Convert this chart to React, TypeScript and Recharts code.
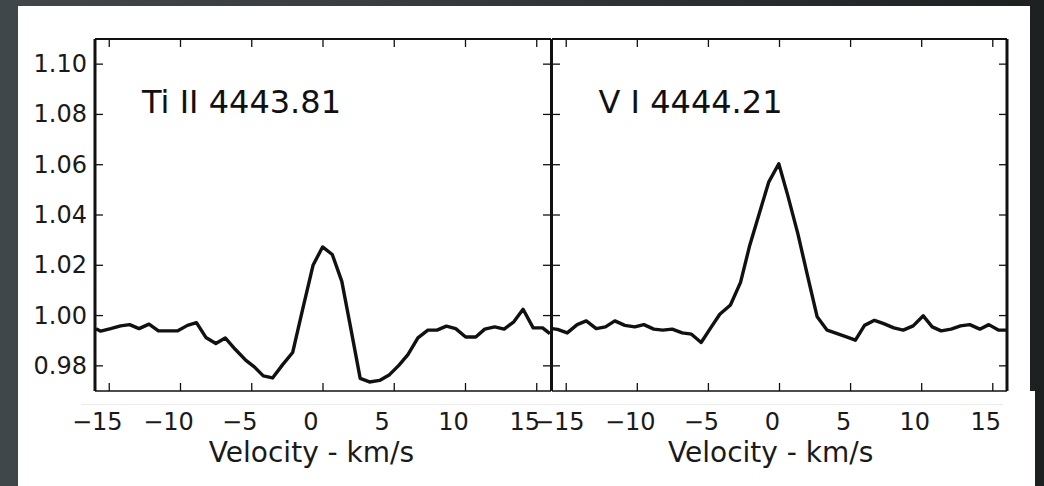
import React from "react";
import { Line, LineChart, XAxis, YAxis } from "recharts";

// Ti II 4443.81 profile (left panel)
const tiVelocity = [
  -15.93, -15.6, -14.9, -14.2, -13.57, -12.91, -12.21, -11.55, -10.87, -10.22,
  -9.51, -8.88, -8.22, -7.52, -6.86, -6.16, -5.41, -4.82, -4.19, -3.54, -2.83,
  -2.13, -1.45, -0.7, -0.03, 0.65, 1.32, 1.98, 2.61, 3.26, 3.97, 4.67, 5.32,
  5.96, 6.66, 7.36, 8.0, 8.66, 9.31, 10.01, 10.72, 11.35, 12.05, 12.71, 13.39,
  14.04, 14.75, 15.41, 15.92,
];
const tiFlux = [
  0.9948, 0.9938, 0.9948, 0.9959, 0.9964, 0.9948, 0.9966, 0.9939, 0.9939,
  0.9939, 0.9961, 0.9972, 0.9913, 0.9889, 0.9911, 0.9866, 0.9822, 0.9796,
  0.976, 0.9752, 0.9805, 0.9853, 1.002, 1.02, 1.0273, 1.0243, 1.0136, 0.994,
  0.975, 0.9736, 0.9742, 0.9765, 0.9802, 0.9845, 0.9911, 0.9942, 0.9942,
  0.9958, 0.9948, 0.9915, 0.9915, 0.9946, 0.9955, 0.9946, 0.9975, 1.0025,
  0.9951, 0.9951, 0.9928,
];

// V I 4444.21 profile (right panel)
const vVelocity = [
  -15.98, -15.61, -14.93, -14.23, -13.59, -12.89, -12.24, -11.58, -10.88,
  -10.18, -9.54, -8.84, -8.21, -7.55, -6.84, -6.19, -5.51, -4.85, -4.2, -3.45,
  -2.74, -2.09, -1.39, -0.75, -0.05, 0.58, 1.29, 1.99, 2.65, 3.35, 4.06, 4.71,
  5.34, 5.98, 6.68, 7.33, 8.04, 8.7, 9.4, 10.11, 10.74, 11.37, 12.07, 12.73,
  13.38, 14.09, 14.72, 15.42, 15.96,
];
const vFlux = [
  0.9948, 0.9945, 0.9931, 0.9964, 0.9979, 0.9948, 0.9955, 0.9979, 0.9961,
  0.9955, 0.9964, 0.9946, 0.9942, 0.9946, 0.9931, 0.9926, 0.9893, 0.995,
  1.0005, 1.0042, 1.0132, 1.028, 1.0412, 1.0532, 1.0604, 1.0478, 1.0326,
  1.0154, 0.9995, 0.9942, 0.9928, 0.9915, 0.9902, 0.9961, 0.9981, 0.9968,
  0.9951, 0.9942, 0.9959, 0.9999, 0.9955, 0.9939, 0.9946, 0.9959, 0.9964,
  0.9946, 0.9964, 0.9942, 0.9942,
];

const velocityTicks = [-15, -10, -5, 0, 5, 10, 15];
const fluxTicks = [0.98, 1.0, 1.02, 1.04, 1.06, 1.08, 1.1];
const panelTitles = ["Ti II 4443.81", "V I 4444.21"];
const xAxisTitle = "Velocity - km/s";

const tiData = tiVelocity.map((v, i) => ({ v, flux: tiFlux[i] }));
const vData = vVelocity.map((v, i) => ({ v, flux: vFlux[i] }));

const FONT = '"DejaVu Sans", "Liberation Sans", sans-serif';
const INK = "#111";
const TICK = 8;
const X_DOMAIN: [number, number] = [-16, 16];
const Y_DOMAIN: [number, number] = [0.97, 1.11];

const fmtVelocity = (v: number) => (v < 0 ? `\u2212${Math.abs(v)}` : `${v}`);

type TickProps = {
  x?: number;
  y?: number;
  payload?: { value: number };
  shift?: number;
  showLabel?: boolean;
};

function BottomTick({ x = 0, y = 0, payload, shift = 0 }: TickProps) {
  return (
    <g>
      <line x1={x} x2={x} y1={y} y2={y - TICK} stroke={INK} strokeWidth={1.3} />
      <text
        x={x + shift}
        y={y + 31}
        textAnchor="middle"
        dominantBaseline="central"
        fontFamily={FONT}
        fontSize={24}
        fill="#1a1a1a"
      >
        {fmtVelocity(payload ? payload.value : 0)}
      </text>
    </g>
  );
}

function TopTick({ x = 0, y = 0 }: TickProps) {
  return <line x1={x} x2={x} y1={y} y2={y + TICK} stroke={INK} strokeWidth={1.3} />;
}

function LeftTick({ x = 0, y = 0, payload, showLabel }: TickProps) {
  return (
    <g>
      <line x1={x} x2={x + TICK} y1={y} y2={y} stroke={INK} strokeWidth={1.3} />
      {showLabel && (
        <text
          x={x - 8}
          y={y}
          textAnchor="end"
          dominantBaseline="central"
          fontFamily={FONT}
          fontSize={24}
          fill="#1a1a1a"
        >
          {(payload ? payload.value : 0).toFixed(2)}
        </text>
      )}
    </g>
  );
}

function RightTick({ x = 0, y = 0 }: TickProps) {
  return <line x1={x} x2={x - TICK} y1={y} y2={y} stroke={INK} strokeWidth={1.3} />;
}

const panelTitle = (text: string, dx: number) => (props: any) => {
  const vb = props.viewBox || { x: 0, y: 0, height: 0 };
  return (
    <text x={vb.x + dx} y={vb.y + vb.height + 73.5} fontFamily={FONT} fontSize={32} fill={INK}>
      {text}
    </text>
  );
};

const axisTitle = (shift: number) => (props: any) => {
  const vb = props.viewBox || { x: 0, y: 0, width: 0 };
  return (
    <text
      x={vb.x + vb.width / 2 + shift}
      y={vb.y + 61}
      textAnchor="middle"
      dominantBaseline="central"
      fontFamily={FONT}
      fontSize={28}
      fill="#1a1a1a"
    >
      {xAxisTitle}
    </text>
  );
};

// one spectrum panel, framed on all four sides like matplotlib's classic style
function Panel({
  data,
  width,
  margin,
  title,
  titleDx,
  labelShift,
  titleShift,
  leftLabels,
  leftWidth,
  leftStroke,
  rightStroke,
}: {
  data: { v: number; flux: number }[];
  width: number;
  margin: { top: number; right: number; bottom: number; left: number };
  title: string;
  titleDx: number;
  labelShift: number;
  titleShift: number;
  leftLabels: boolean;
  leftWidth: number;
  leftStroke: number;
  rightStroke: number;
}) {
  return (
    <LineChart width={width} height={486} data={data} margin={margin}>
      <XAxis
        dataKey="v"
        type="number"
        domain={X_DOMAIN}
        ticks={velocityTicks}
        allowDataOverflow
        height={95}
        tickSize={0}
        tickMargin={0}
        tickLine={false}
        axisLine={{ stroke: INK, strokeWidth: 1.5 }}
        tick={<BottomTick shift={labelShift} />}
        label={axisTitle(titleShift)}
      />
      <XAxis
        xAxisId="top"
        orientation="top"
        dataKey="v"
        type="number"
        domain={X_DOMAIN}
        ticks={velocityTicks}
        allowDataOverflow
        height={1}
        tickSize={0}
        tickMargin={0}
        tickLine={false}
        axisLine={{ stroke: INK, strokeWidth: 2 }}
        tick={<TopTick />}
        label={panelTitle(title, titleDx)}
      />
      <YAxis
        type="number"
        domain={Y_DOMAIN}
        ticks={fluxTicks}
        allowDataOverflow
        width={leftWidth}
        tickSize={0}
        tickMargin={0}
        tickLine={false}
        axisLine={{ stroke: INK, strokeWidth: leftStroke }}
        tick={<LeftTick showLabel={leftLabels} />}
      />
      <YAxis
        yAxisId="right"
        orientation="right"
        type="number"
        domain={Y_DOMAIN}
        ticks={fluxTicks}
        allowDataOverflow
        width={1}
        tickSize={0}
        tickMargin={0}
        tickLine={false}
        axisLine={{ stroke: INK, strokeWidth: rightStroke }}
        tick={<RightTick />}
      />
      {/* twin trace on the top/right axes so those frame sides get drawn */}
      <Line
        xAxisId="top"
        yAxisId="right"
        type="linear"
        dataKey="flux"
        stroke="transparent"
        strokeWidth={0}
        dot={false}
        activeDot={false}
        isAnimationActive={false}
      />
      <Line
        type="linear"
        dataKey="flux"
        stroke={INK}
        strokeWidth={3.4}
        strokeLinejoin="round"
        dot={false}
        activeDot={false}
        isAnimationActive={false}
      />
    </LineChart>
  );
}

export default function App() {
  return (
    <div
      style={{
        position: "absolute",
        left: 0,
        top: 0,
        width: 1044,
        height: 486,
        overflow: "hidden",
        background:
          "linear-gradient(90deg, #3f474b 0%, #373d41 35%, #2b2f32 65%, #1d2021 100%)",
      }}
    >
      <div style={{ position: "absolute", left: 18, top: 6, width: 1012, height: 386, background: "#fff" }} />
      <div style={{ position: "absolute", left: 18, top: 391, width: 1017, height: 95, background: "#fff" }} />
      <div style={{ position: "absolute", left: 81, top: 404, width: 922, height: 1, background: "#ececec" }} />

      <div style={{ position: "absolute", left: 0, top: 0 }}>
        <Panel
          data={tiData}
          width={560}
          margin={{ top: 38, right: 8, bottom: 0, left: 0 }}
          title={panelTitles[0]}
          titleDx={47}
          labelShift={-12}
          titleShift={-11.5}
          leftLabels
          leftWidth={95}
          leftStroke={3}
          rightStroke={2}
        />
      </div>

      <div style={{ position: "absolute", left: 0, top: 0 }}>
        <Panel
          data={vData}
          width={1044}
          margin={{ top: 38, right: 36, bottom: 0, left: 551 }}
          title={panelTitles[1]}
          titleDx={46.5}
          labelShift={-7}
          titleShift={-8.8}
          leftLabels={false}
          leftWidth={1}
          leftStroke={2}
          rightStroke={3}
        />
      </div>
    </div>
  );
}
